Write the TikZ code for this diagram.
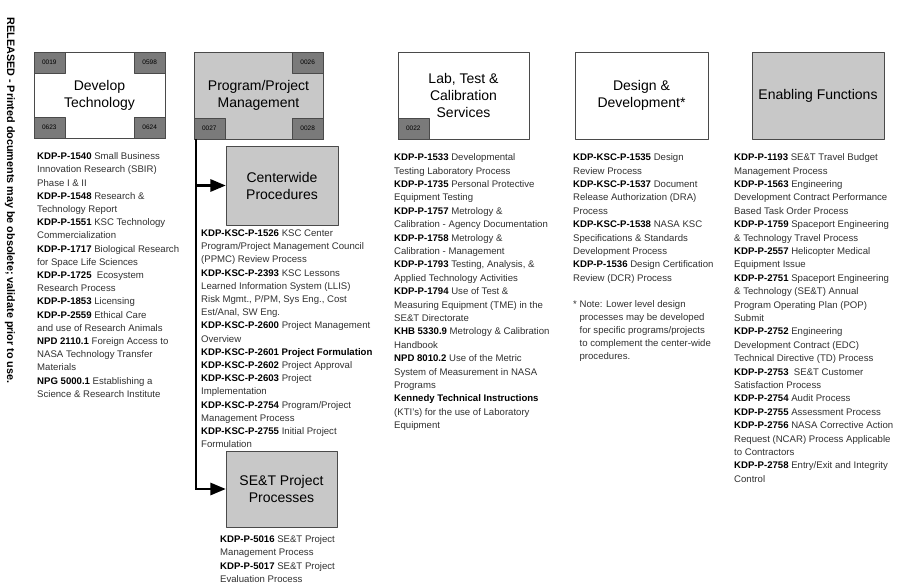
\documentclass[tikz,border=0pt]{standalone}
\usepackage{fontspec}
\setmainfont{Liberation Sans}
\usepackage{xcolor}
\usetikzlibrary{arrows}
\definecolor{boxgray}{HTML}{C8C8C8}
\definecolor{taggray}{HTML}{7A7A7A}
\definecolor{edgegray}{HTML}{4A4A4A}
\definecolor{txtgray}{HTML}{303030}
\newcommand{\docid}[1]{\textbf{\color{black}#1}}

\begin{document}
\begin{tikzpicture}[line cap=round,line join=round,>=triangle 45,x=1pt,y=-1pt,
  area/.style={draw=edgegray,line width=0.9pt,fill=white,align=center,inner sep=0pt,
    font=\fontsize{14}{17}\selectfont},
  tag/.style={draw=edgegray,line width=0.6pt,fill=taggray,minimum width=31pt,
    minimum height=21pt,inner sep=0pt,font=\fontsize{6.5}{7}\selectfont},
  doclist/.style={anchor=north west,align=left,inner sep=0pt,text=txtgray,
    font=\fontsize{9.6}{13.2}\selectfont},
  widelist/.style={doclist,font=\fontsize{9.6}{13.4}\selectfont},
  feed/.style={line width=2.6pt,line cap=butt,line join=miter,->}]
\useasboundingbox (0,0) rectangle (898,586);

% side note
\node[rotate=-90,anchor=west,font=\bfseries\fontsize{10.8}{12}\selectfont] (release) at (10,14)
  {RELEASED - Printed documents may be obsolete; validate prior to use.};

% top row of areas
\node[area,minimum width=131pt,minimum height=86pt] (dev) at (99.5,95) {Develop\\Technology};
\node[area,fill=boxgray,minimum width=129pt,minimum height=87pt] (ppm) at (258.5,95.5) {Program/Project\\Management};
\node[area,minimum width=131pt,minimum height=87pt] (lab) at (463.5,95.5) {Lab, Test \&\\Calibration\\Services};
\node[area,minimum width=133pt,minimum height=87pt] (dd) at (641.5,95.5) {Design \&\\Development*};
\node[area,fill=boxgray,minimum width=132pt,minimum height=87pt] (ef) at (818,95.5) {Enabling Functions};

% sub areas under program/project management
\node[area,fill=boxgray,minimum width=112pt,minimum height=79pt] (cwp) at (282,185.5) {Centerwide\\Procedures};
\node[area,fill=boxgray,minimum width=111pt,minimum height=76pt] (set) at (281.5,489) {SE\&T Project\\Processes};

% corner tags
\node[tag,anchor=north west] (dev-a) at (dev.north west) {0019};
\node[tag,anchor=north east] (dev-b) at (dev.north east) {0598};
\node[tag,anchor=south west] (dev-c) at (dev.south west) {0623};
\node[tag,anchor=south east] (dev-d) at (dev.south east) {0624};
\node[tag,anchor=north east] (ppm-a) at (ppm.north east) {0026};
\node[tag,anchor=south west] (ppm-b) at (ppm.south west) {0027};
\node[tag,anchor=south east] (ppm-c) at (ppm.south east) {0028};
\node[tag,anchor=south west] (lab-a) at (lab.south west) {0022};

% feeds
\coordinate (spine) at ([xshift=2.5pt]ppm.south west);
\draw[feed] (spine) |- (cwp.west);
\draw[feed] (spine) |- (set.west);

% document lists
\node[doclist] (devlist) at (37,152.5) {%
\docid{KDP-P-1540} Small Business\\
Innovation Research (SBIR)\\
Phase I \& II\\
\docid{KDP-P-1548} Research \&\\
Technology Report\\
\docid{KDP-P-1551} KSC Technology\\
Commercialization\\
\docid{KDP-P-1717} Biological Research\\
for Space Life Sciences\\
\docid{KDP-P-1725}\ \ Ecosystem\\
Research Process\\
\docid{KDP-P-1853} Licensing\\
\docid{KDP-P-2559} Ethical Care\\
and use of Research Animals\\
\docid{NPD 2110.1} Foreign Access to\\
NASA Technology Transfer\\
Materials\\
\docid{NPG 5000.1} Establishing a\\
Science \& Research Institute};

\node[doclist] (cwplist) at (201,229.5) {%
\docid{KDP-KSC-P-1526} KSC Center\\
Program/Project Management Council\\
(PPMC) Review Process\\
\docid{KDP-KSC-P-2393} KSC Lessons\\
Learned Information System (LLIS)\\
Risk Mgmt., P/PM, Sys Eng., Cost\\
Est/Anal, SW Eng.\\
\docid{KDP-KSC-P-2600} Project Management\\
Overview\\
\docid{KDP-KSC-P-2601 Project Formulation}\\
\docid{KDP-KSC-P-2602} Project Approval\\
\docid{KDP-KSC-P-2603} Project\\
Implementation\\
\docid{KDP-KSC-P-2754} Program/Project\\
Management Process\\
\docid{KDP-KSC-P-2755} Initial Project\\
Formulation};

\node[doclist] (setlist) at (220,535.5) {%
\docid{KDP-P-5016} SE\&T Project\\
Management Process\\
\docid{KDP-P-5017} SE\&T Project\\
Evaluation Process};

\node[widelist] (lablist) at (394,153.5) {%
\docid{KDP-P-1533} Developmental\\
Testing Laboratory Process\\
\docid{KDP-P-1735} Personal Protective\\
Equipment Testing\\
\docid{KDP-P-1757} Metrology \&\\
Calibration - Agency Documentation\\
\docid{KDP-P-1758} Metrology \&\\
Calibration - Management\\
\docid{KDP-P-1793} Testing, Analysis, \&\\
Applied Technology Activities\\
\docid{KDP-P-1794} Use of Test \&\\
Measuring Equipment (TME) in the\\
SE\&T Directorate\\
\docid{KHB 5330.9} Metrology \& Calibration\\
Handbook\\
\docid{NPD 8010.2} Use of the Metric\\
System of Measurement in NASA\\
Programs\\
\docid{Kennedy Technical Instructions}\\
(KTI's) for the use of Laboratory\\
Equipment};

\node[widelist] (ddlist) at (573,153.5) {%
\docid{KDP-KSC-P-1535} Design\\
Review Process\\
\docid{KDP-KSC-P-1537} Document\\
Release Authorization (DRA)\\
Process\\
\docid{KDP-KSC-P-1538} NASA KSC\\
Specifications \& Standards\\
Development Process\\
\docid{KDP-P-1536} Design Certification\\
Review (DCR) Process};

\node[doclist] (ddnote) at (573,300) {%
* Note: Lower level design\\
\hphantom{* }processes may be developed\\
\hphantom{* }for specific programs/projects\\
\hphantom{* }to complement the center-wide\\
\hphantom{* }procedures.};

\node[widelist] (eflist) at (734,153.5) {%
\docid{KDP-P-1193} SE\&T Travel Budget\\
Management Process\\
\docid{KDP-P-1563} Engineering\\
Development Contract Performance\\
Based Task Order Process\\
\docid{KDP-P-1759} Spaceport Engineering\\
\& Technology Travel Process\\
\docid{KDP-P-2557} Helicopter Medical\\
Equipment Issue\\
\docid{KDP-P-2751} Spaceport Engineering\\
\& Technology (SE\&T) Annual\\
Program Operating Plan (POP)\\
Submit\\
\docid{KDP-P-2752} Engineering\\
Development Contract (EDC)\\
Technical Directive (TD) Process\\
\docid{KDP-P-2753}\ \ SE\&T Customer\\
Satisfaction Process\\
\docid{KDP-P-2754} Audit Process\\
\docid{KDP-P-2755} Assessment Process\\
\docid{KDP-P-2756} NASA Corrective Action\\
Request (NCAR) Process Applicable\\
to Contractors\\
\docid{KDP-P-2758} Entry/Exit and Integrity\\
Control};
\end{tikzpicture}
\end{document}
